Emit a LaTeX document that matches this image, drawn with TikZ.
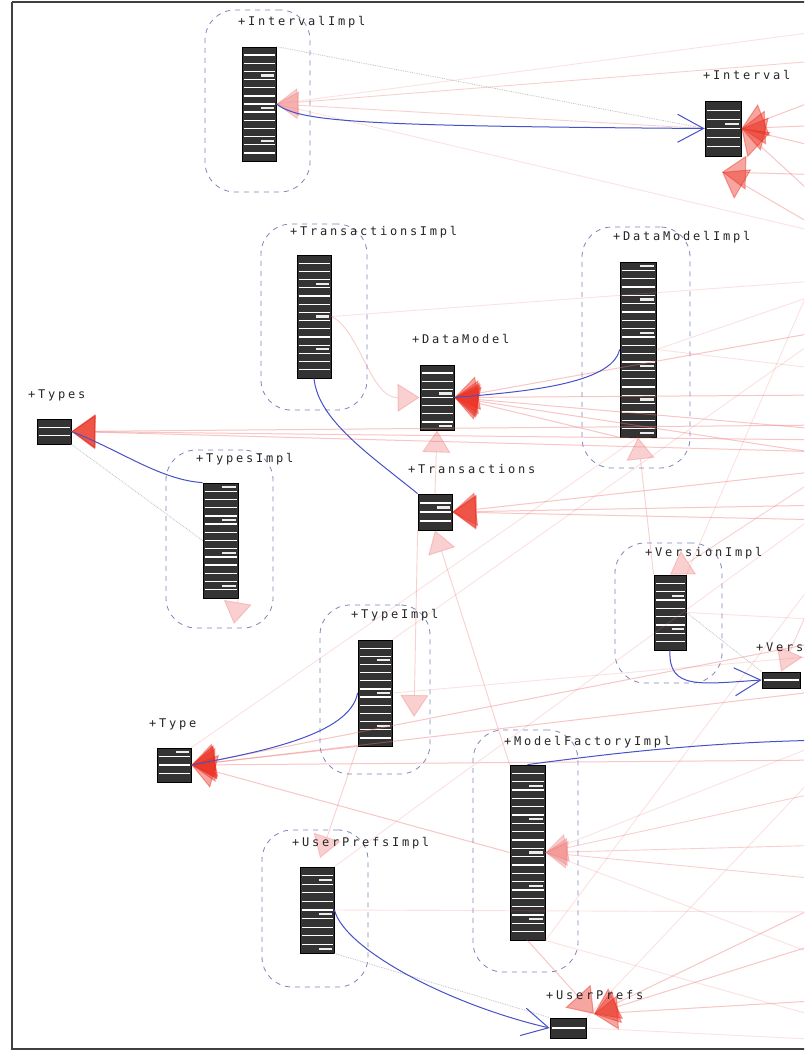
\documentclass[tikz,border=0pt]{standalone}
\usepackage{fontspec}
\newfontfamily\lblfont{DejaVu Sans Mono}[LetterSpace=23]
\usetikzlibrary{arrows.meta,fit,calc}
\definecolor{lnblue}{RGB}{70,80,200}
\definecolor{pinkln}{RGB}{240,120,120}
\definecolor{arrred}{RGB}{235,45,30}
\definecolor{grpcol}{RGB}{125,135,185}
\tikzset{
  frame/.style={draw=black!75, line width=1.2pt},
  cls/.style={draw=black, fill=black!80, line width=0.8pt, inner sep=0pt},
  grp/.style={draw=grpcol, dash pattern=on 5pt off 5pt, line width=0.8pt, rounded corners=30pt, inner sep=0pt},
  lbl/.style={font=\lblfont\fontsize{12}{14}\selectfont, text=black!85, inner sep=0pt, anchor=base west},
  depS/.style={draw=pinkln, line width=1pt, opacity=0.42, -{Triangle[length=24pt,width=34pt,color=arrred]}},
  depL/.style={draw=pinkln, line width=0.9pt, opacity=0.35, -{Triangle[length=22pt,width=28pt,color=pinkln]}},
  faint/.style={draw=pinkln, line width=0.9pt, opacity=0.22},
  dotl/.style={draw=gray!70, densely dotted, line width=0.8pt, opacity=0.7},
  real/.style={draw=lnblue, line width=1pt},
  openarr/.style={-{Straight Barb[length=26pt,width=28pt,line width=1pt]}},
}
\newcommand\clsbox[5]{%
  \node[cls, fit={(#2,#3) (#4,#5)}] (#1) {};
  \pgfmathtruncatemacro\nrows{max(2,floor(((#5)-(#3))/8))}%
  \pgfmathsetmacro\rowh{((#5)-(#3))/\nrows}%
  \foreach \k in {1,...,\nrows}{%
    \pgfmathsetmacro\yy{#3+\k*\rowh}%
    \pgfmathsetmacro\ym{#3+(\k-0.5)*\rowh}%
    \pgfmathtruncatemacro\rr{mod(\k*3+\nrows+#2,4)}%
    \ifnum\k<\nrows \draw[white, line width=1.3pt] (#2+1.5,\yy) -- (#4-1.5,\yy);\fi
    \ifnum\rr=0 \draw[white!85!gray, line width=2.2pt] ({#2+0.55*(#4-#2)},\ym) -- (#4-2.5,\ym);\fi
  }%
}
\begin{document}
\begin{tikzpicture}[x=1pt,y=-1pt]
\useasboundingbox (0,0) rectangle (804,1051);
\clip (0,0) rectangle (804,1051);
\fill[white] (0,0) rectangle (804,1051);

% containers
\node[grp, fit={(205,10) (310,192)}] (gii) {};
\node[grp, fit={(261,224) (367,410)}] (gti) {};
\node[grp, fit={(582,227) (690,468)}] (gdmi) {};
\node[grp, fit={(166,450) (273,628)}] (gtsi) {};
\node[grp, fit={(615,543) (722,683)}] (gvi) {};
\node[grp, fit={(320,605) (430,774)}] (gtyi) {};
\node[grp, fit={(473,730) (578,972)}] (gmfi) {};
\node[grp, fit={(262,830) (368,987)}] (gupi) {};

% right edge sources
\foreach \n/\y in {a/30,b/60,c/95,d/125,e/150,f/175,g/210,h/235,i/240,j/280,k/290,l/330,m/370,n/395,o/425,p/430,q/440,r/452,s/455,t/470,u/505,v/520,w/560,x/620,y/640,z/655}
  \coordinate (R\n) at (830,\y);
\foreach \n/\y in {a/690,b/740,c/760,d/790,e/845,f/880,g/912,h/960,i/1000,j/1020,k/1040,l/900,m/940}
  \coordinate (S\n) at (830,\y);

% class boxes
\clsbox{iimpl}{242}{47}{276}{161}
\clsbox{intv}{705}{101}{741}{156}
\clsbox{timpl}{297}{255}{331}{378}
\clsbox{dmimpl}{620}{262}{656}{437}
\clsbox{dm}{420}{365}{454}{430}
\clsbox{types}{37}{419}{71}{444}
\clsbox{tsimpl}{203}{483}{238}{598}
\clsbox{trans}{418}{494}{452}{530}
\clsbox{vimpl}{654}{575}{686}{650}
\clsbox{vers}{762}{672}{800}{688}
\clsbox{tyimpl}{358}{640}{392}{746}
\clsbox{type}{157}{748}{191}{782}
\clsbox{mfimpl}{510}{765}{545}{940}
\clsbox{upimpl}{300}{867}{334}{953}
\clsbox{uprefs}{550}{1018}{586}{1038}

\coordinate (intvc) at (722,172);
\coordinate (tsb) at (234,624);
\coordinate (tyic) at (414,717);
\coordinate (upic) at (320,858);
\coordinate (upc) at (594,1014);

% faint lines
\draw[faint] (iimpl.east) -- (Ra);
\draw[faint] (iimpl.east) -- (Rh);
\draw[faint] (timpl.east) -- (Rj);
\draw[faint] (dmimpl.east) -- (Rk);
\draw[faint] (dmimpl.east) -- (Rm);
\draw[faint] (vimpl.east) -- (Rx);
\draw[faint] (tyimpl.east) -- (Rz);
\draw[faint] (mfimpl.east) -- (Sb);
\draw[faint] (mfimpl.east) -- (Sh);
\draw[faint] (upimpl.east) -- (Sg);
\draw[faint] (mfimpl.south east) -- (Sj);
\draw[faint] (Sc) -- (uprefs.north east);
\draw[faint] (Rw) -- (mfimpl.south east);
\draw[faint] (Ri) -- (vimpl.north east);
\draw[faint] (Rl) -- (tyimpl.north east);
\draw[faint] (Ru) -- (upimpl.north east);
\draw[faint] (dmimpl.south) -- (type.north east);
\draw[faint] (uprefs.east) -- (Sk);

% dotted lines
\draw[dotl] (intv.west) -- (iimpl.north east);
\draw[dotl] (types.south east) -- (tsimpl.west);
\draw[dotl] (upimpl.south east) -- (uprefs.north west);
\draw[dotl] (vimpl.east) -- (vers.north west);

% strong dependencies
\foreach \s in {Rc,Rd,Re,Rg} \draw[depS] (\s) -- (intv.east);
\foreach \s in {Rf,Rh} \draw[depS] (\s) -- (intvc);
\foreach \s in {Rl,Rn,Rp,Rs} \draw[depS] (\s) -- (dm.east);
\draw[depS] (dmimpl.south west) -- (dm.east);
\foreach \s in {Ro,Rq,Rr} \draw[depS] (\s) -- (types.east);
\foreach \s in {Rt,Ru,Rv} \draw[depS] (\s) -- (trans.east);
\foreach \s in {Ry,Sa,Sc} \draw[depS] (\s) -- (type.east);
\draw[depS] (tyimpl.south west) -- (type.east);
\draw[depS] (mfimpl.west) -- (type.east);
\foreach \s in {Sl,Sm,Si} \draw[depS] (\s) -- (upc);
\draw[depS] (mfimpl.south) -- (upc);

% light dependencies
\draw[depL] (Rb) -- (iimpl.east);
\draw[depL] (intv.west) -- (iimpl.east);
\draw[depL] (timpl.east) .. controls (360,330) and (370,398) .. (dm.west);
\draw[depL] (trans.north) -- (dm.south);
\draw[depL] (mfimpl.north west) -- (trans.south);
\draw[depL] (vimpl.north west) -- (dmimpl.south);
\draw[depL] (tsimpl.south east) -- (tsb);
\draw[depL] (Rt) -- (vimpl.north);
\draw[depL] (Rw) -- (vers.north);
\draw[depL] (trans.south west) -- (tyic);
\foreach \s in {Sd,Se,Sf} \draw[depL] (\s) -- (mfimpl.east);
\draw[depL] (tyimpl.south west) -- (upic);

% realizations
\draw[real, openarr] (iimpl.east) .. controls (300,122) and (360,126) .. (intv.west);
\draw[real] (dmimpl.west) .. controls (612,385) and (520,392) .. (dm.east);
\draw[real] (tsimpl.north west) .. controls (160,480) and (120,450) .. (types.east);
\draw[real] (timpl.south) .. controls (318,420) and (370,455) .. (trans.north west);
\draw[real] (tyimpl.west) .. controls (350,735) and (260,752) .. (type.east);
\draw[real, openarr] (vimpl.south) .. controls (668,690) and (700,684) .. (vers.west);
\draw[real] (Sb) .. controls (700,742) and (600,755) .. (mfimpl.north);
\draw[real, openarr] (upimpl.east) .. controls (345,950) and (450,1005) .. (uprefs.west);

% labels
\node[lbl] (liimpl) at (238,26) {+IntervalImpl};
\node[lbl] (lintv) at (703,80) {+Interval};
\node[lbl] (ltimpl) at (290,235) {+TransactionsImpl};
\node[lbl] (ldmimpl) at (613,240) {+DataModelImpl};
\node[lbl] (ldm) at (412,343) {+DataModel};
\node[lbl] (ltypes) at (28,398) {+Types};
\node[lbl] (ltsimpl) at (196,462) {+TypesImpl};
\node[lbl] (ltrans) at (408,473) {+Transactions};
\node[lbl] (lvimpl) at (645,556) {+VersionImpl};
\node[lbl] (lvers) at (756,651) {+Version};
\node[lbl] (ltyimpl) at (351,618) {+TypeImpl};
\node[lbl] (ltype) at (149,727) {+Type};
\node[lbl] (lmfimpl) at (504,745) {+ModelFactoryImpl};
\node[lbl] (lupimpl) at (292,846) {+UserPrefsImpl};
\node[lbl] (luprefs) at (546,999) {+UserPrefs};

% frame
\draw[frame] (12,2) -- (830,2);
\draw[frame] (12,2) -- (12,1049) -- (830,1049);
\end{tikzpicture}
\end{document}
